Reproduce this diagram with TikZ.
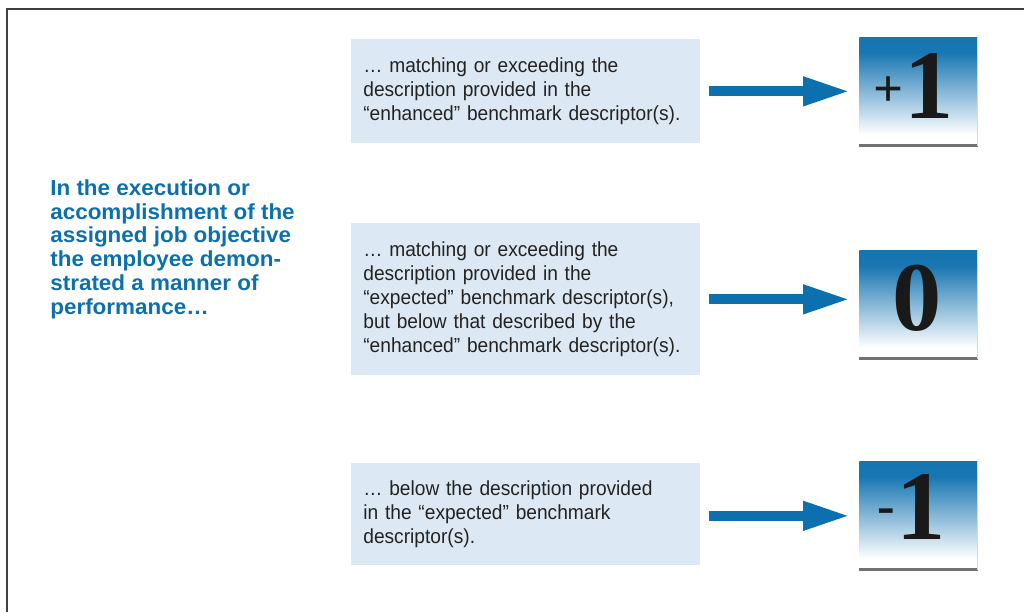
\documentclass[tikz,border=0pt]{standalone}
\usepackage{fontspec}
\setmainfont{Liberation Sans}[FakeStretch=0.94]
\newfontfamily\leadfont{Liberation Sans}[FakeStretch=1.03]
\newfontfamily\scorefont{Liberation Serif}
\usetikzlibrary{arrows.meta,positioning}

\definecolor{boxblue}{RGB}{220,232,244}
\definecolor{markblue}{RGB}{12,111,174}
\definecolor{bodygray}{RGB}{35,35,35}
\pgfdeclareverticalshading{tilefade}{100bp}{color(0bp)=(white); color(30bp)=(white); color(52bp)=(markblue!55); color(68bp)=(markblue!95); color(100bp)=(markblue)}

\tikzset{
  optbox/.style={fill=boxblue, text width=6.5cm, inner xsep=0.24cm, inner ysep=0pt,
    align=left, anchor=north west, text=bodygray,
    font=\fontsize{11.6}{13.6}\selectfont},
  tile/.style={shading=tilefade, minimum width=2.36cm, minimum height=2.16cm,
    anchor=north west, inner sep=0pt},
  flow/.style={markblue, line width=0.2cm, shorten <=0.16cm, shorten >=0.18cm,
    -{Triangle[length=0.94cm,width=0.54cm]}},
  bigdigit/.style={inner sep=0pt, text=black!90, font=\scorefont\bfseries\fontsize{56}{56}\selectfont},
  smallsign/.style={inner sep=0pt, text=black!90, font=\scorefont\bfseries\fontsize{30}{30}\selectfont}
}

\begin{document}
\begin{tikzpicture}[x=0.02cm,y=-0.02cm]
  \useasboundingbox (0,0) rectangle (1024,612);

  % frame
  \draw [line width=0.045cm, color=black!75] (7,612) -- (7,9) -- (1024,9);

  % lead text
  \node (lead) [anchor=north west, inner sep=0pt, align=left, text=markblue,
    font=\leadfont\bfseries\fontsize{12.4}{13.6}\selectfont] at (50,179)
    {In the execution or\\accomplishment of the\\assigned job objective\\the employee demon-\\strated a manner of\\performance\ldots};

  % descriptors
  \node (enh) [optbox, minimum height=2.08cm] at (351,39)
    {\ldots\ matching or exceeding the\\description provided in the\\``enhanced'' benchmark descriptor(s).};
  \node (exp) [optbox, minimum height=3.04cm] at (351,223)
    {\ldots\ matching or exceeding the\\description provided in the\\``expected'' benchmark descriptor(s),\\but below that described by the\\``enhanced'' benchmark descriptor(s).};
  \node (below) [optbox, minimum height=2.04cm] at (351,463)
    {\ldots\ below the description provided\\in the ``expected'' benchmark\\descriptor(s).};

  % score tiles
  \node (plus) [tile] at (859,37) {};
  \node (zero) [tile] at (859,250) {};
  \node (minus) [tile] at (859,461) {};
  \foreach \t in {plus,zero,minus} {
    \draw [line width=0.06cm, color=black!55] (\t.south west) -- (\t.south east);
    \draw [line width=0.02cm, color=black!15] (\t.north east) -- (\t.south east);
  }

  \node (plus-sign) [smallsign] at (889,91.5) {+};
  \node (plus-one) [bigdigit] at (929,86) {1};
  \node (zero-digit) [bigdigit] at (917.5,298) {0};
  \node (minus-sign) [smallsign] at (886,516) {-};
  \node (minus-one) [bigdigit] at (921,507) {1};

  % arrows
  \draw [flow] (enh.east) -- (enh.east -| plus.west);
  \draw [flow] (exp.east) -- (exp.east -| zero.west);
  \draw [flow] ([yshift=-0.03cm]below.east) -- ([yshift=-0.03cm]below.east -| minus.west);
\end{tikzpicture}
\end{document}
